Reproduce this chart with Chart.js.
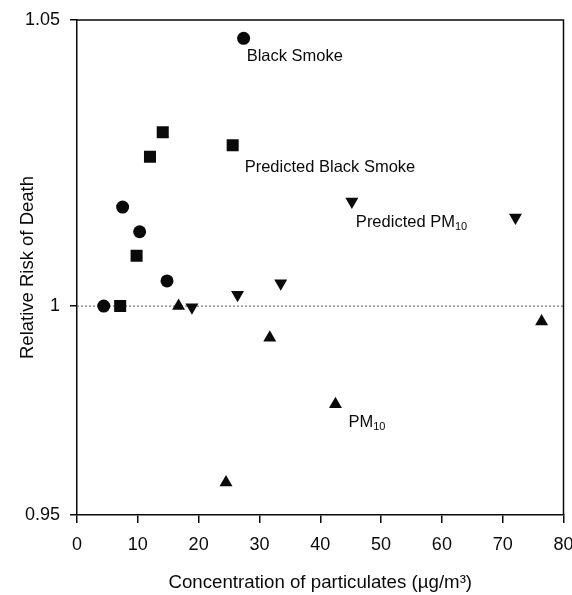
<!DOCTYPE html>
<html>
<head>
<meta charset="utf-8">
<script src="https://cdn.jsdelivr.net/npm/chart.js@4"></script>
<style>
    html, body { margin: 0; padding: 0; background: #fff; }
</style>
</head>
<body>
<canvas id="riskChart" width="572" height="595"></canvas>
<script>
// values
const blackSmokeX = [4.4, 7.5, 10.3, 14.8, 27.4];
const blackSmokeY = [1.000, 1.0173, 1.0130, 1.0044, 1.0468];
const predBlackSmokeX = [7.1, 9.8, 12.0, 14.1, 25.6];
const predBlackSmokeY = [1.000, 1.0088, 1.0261, 1.0304, 1.0281];
const pm10X = [16.7, 24.5, 31.7, 42.5, 76.4];
const pm10Y = [1.000, 0.9578, 0.9924, 0.9765, 0.9963];
const predPm10X = [18.9, 26.4, 33.5, 45.2, 72.1];
const predPm10Y = [0.9997, 1.0020, 1.0040, 1.0183, 1.0155];

const xTicks = [0, 10, 20, 30, 40, 50, 60, 70, 80];
const yTicks = [0.95, 1, 1.05];
const yTickLabels = ['0.95', '1', '1.05'];
const referenceRisk = 1;

const ink = '#0a0a0a';
const fontFamily = '"Liberation Sans", Arial, sans-serif';

// the original axis is stretched above 1, so split the scale at the pivot
class SplitLinearScale extends Chart.LinearScale {
    getPixelForValue(value) {
        if (value === null) return NaN;
        const pivot = this.options.pivot;
        const share = this.options.pivotShare;
        let dec;
        if (value <= pivot) {
            dec = (value - this.min) / (pivot - this.min) * share;
        } else {
            dec = share + (value - pivot) / (this.max - pivot) * (1 - share);
        }
        return this.getPixelForDecimal(dec);
    }
    getValueForPixel(pixel) {
        const pivot = this.options.pivot;
        const share = this.options.pivotShare;
        const dec = this.getDecimalForPixel(pixel);
        if (dec <= share) return this.min + dec / share * (pivot - this.min);
        return pivot + (dec - share) / (1 - share) * (this.max - pivot);
    }
}
SplitLinearScale.id = 'splitLinear';
SplitLinearScale.defaults = Chart.LinearScale.defaults;
Chart.register(SplitLinearScale);

function points(xs, ys) {
    return xs.map((x, i) => ({ x: x, y: ys[i] }));
}

const notes = [
    { dataset: 0, index: 4, text: 'Black Smoke', sub: '', dx: 3, dy: 18 },
    { dataset: 1, index: 4, text: 'Predicted Black Smoke', sub: '', dx: 12, dy: 22 },
    { dataset: 3, index: 3, text: 'Predicted PM', sub: '10', dx: 4, dy: 21 },
    { dataset: 2, index: 3, text: 'PM', sub: '10', dx: 13, dy: 18 }
];

const notesPlugin = {
    id: 'notes',
    afterDatasetsDraw(chart) {
        const ctx = chart.ctx;
        ctx.save();
        ctx.fillStyle = ink;
        ctx.textAlign = 'left';
        ctx.textBaseline = 'middle';
        notes.forEach(n => {
            const el = chart.getDatasetMeta(n.dataset).data[n.index];
            const x = el.x + n.dx;
            const y = el.y + n.dy;
            ctx.font = '16.5px ' + fontFamily;
            ctx.fillText(n.text, x, y);
            if (n.sub) {
                const w = ctx.measureText(n.text).width;
                ctx.font = '11px ' + fontFamily;
                ctx.fillText(n.sub, x + w, y + 5);
            }
        });
        ctx.restore();
    }
};

const framePlugin = {
    id: 'frame',
    afterDraw(chart) {
        const a = chart.chartArea;
        const ctx = chart.ctx;
        ctx.save();
        ctx.strokeStyle = ink;
        ctx.lineWidth = 1.5;
        ctx.beginPath();
        ctx.moveTo(a.left, a.top);
        ctx.lineTo(a.right, a.top);
        ctx.lineTo(a.right, a.bottom);
        ctx.stroke();
        ctx.restore();
    }
};

new Chart(document.getElementById('riskChart'), {
    type: 'scatter',
    data: {
        datasets: [{
            label: 'Black Smoke',
            data: points(blackSmokeX, blackSmokeY),
            pointStyle: 'circle',
            pointRadius: 6.5,
            backgroundColor: ink,
            borderColor: ink,
            borderWidth: 0
        }, {
            label: 'Predicted Black Smoke',
            data: points(predBlackSmokeX, predBlackSmokeY),
            pointStyle: 'rect',
            pointRadius: 8.5,
            backgroundColor: ink,
            borderColor: ink,
            borderWidth: 0
        }, {
            label: 'PM10',
            data: points(pm10X, pm10Y),
            pointStyle: 'triangle',
            pointRadius: 7.5,
            backgroundColor: ink,
            borderColor: ink,
            borderWidth: 0
        }, {
            label: 'Predicted PM10',
            data: points(predPm10X, predPm10Y),
            pointStyle: 'triangle',
            pointRotation: 180,
            pointRadius: 7.5,
            backgroundColor: ink,
            borderColor: ink,
            borderWidth: 0
        }, {
            type: 'line',
            label: 'Reference',
            data: [{ x: xTicks[0], y: referenceRisk }, { x: xTicks[xTicks.length - 1], y: referenceRisk }],
            borderColor: '#555',
            borderWidth: 1,
            borderDash: [2, 2],
            pointRadius: 0
        }]
    },
    options: {
        responsive: false,
        animation: false,
        layout: { padding: { top: 20, right: 5, left: 0, bottom: 0 } },
        plugins: {
            legend: { display: false },
            tooltip: { enabled: false }
        },
        scales: {
            x: {
                type: 'linear',
                min: xTicks[0],
                max: xTicks[xTicks.length - 1],
                afterBuildTicks: s => { s.ticks = xTicks.map(v => ({ value: v })); },
                afterFit: s => { s.height = 80; s.paddingLeft = 0; s.paddingRight = 0; },
                grid: { drawOnChartArea: false, drawTicks: true, tickLength: 8, color: ink, lineWidth: 1.5 },
                border: { color: ink, width: 1.5 },
                ticks: {
                    padding: 11,
                    color: ink,
                    maxRotation: 0,
                    autoSkip: false,
                    font: { family: fontFamily, size: 18 }
                },
                title: {
                    display: true,
                    text: 'Concentration of particulates (µg/m³)',
                    color: ink,
                    font: { family: fontFamily, size: 18.7 },
                    padding: { top: 0, bottom: 1 }
                }
            },
            y: {
                type: 'splitLinear',
                min: yTicks[0],
                max: yTicks[yTicks.length - 1],
                pivot: referenceRisk,
                pivotShare: 0.422,
                afterBuildTicks: s => { s.ticks = yTicks.map(v => ({ value: v })); },
                afterFit: s => { s.width = 77; s.paddingTop = 0; s.paddingBottom = 0; },
                grid: { drawOnChartArea: false, drawTicks: true, tickLength: 7, color: ink, lineWidth: 1.5 },
                border: { color: ink, width: 1.5 },
                ticks: {
                    padding: 10,
                    color: ink,
                    font: { family: fontFamily, size: 18 },
                    callback: (v, i) => yTickLabels[i]
                },
                title: {
                    display: true,
                    text: 'Relative Risk of Death',
                    color: ink,
                    font: { family: fontFamily, size: 18.5 },
                    padding: { top: 17, bottom: 0 }
                }
            }
        }
    },
    plugins: [notesPlugin, framePlugin]
});
</script>
</body>
</html>
